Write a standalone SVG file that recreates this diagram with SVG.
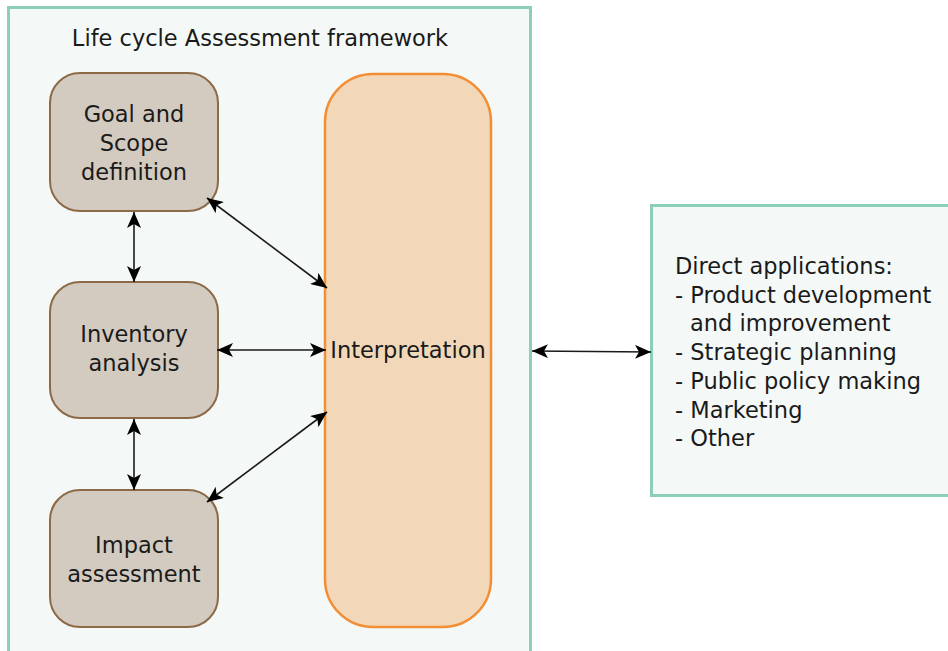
<svg xmlns="http://www.w3.org/2000/svg" width="948" height="651" viewBox="0 0 948 651">
<defs>
<style>
text{font-family:"DejaVu Sans",Verdana,sans-serif;font-size:22.5px;fill:#1a1a1a}
.frame{fill:#f4f8f7;stroke:#8ccfb6;stroke-width:3}
.stage{fill:#d3cbbf;stroke:#8c6a47;stroke-width:2}
.interp{fill:#f2d8b8;stroke:#f28e35;stroke-width:2.5}
.c{text-anchor:middle}
.conn{stroke:#1a1a1a;stroke-width:1.6;fill:none;marker-end:url(#ah);marker-start:url(#ah)}
</style>
<marker id="ah" viewBox="0 0 16 14" refX="16" refY="7" markerWidth="16" markerHeight="14" markerUnits="userSpaceOnUse" orient="auto-start-reverse">
<path d="M0,0 L16,7 L0,14 L4,7 Z" fill="#000"/>
</marker>
</defs>
<g id="framework">
<rect class="frame" x="8.5" y="7.5" width="522" height="650"/>
<text class="c" x="260" y="46">Life cycle Assessment framework</text>
</g>
<g id="goal">
<rect class="stage" x="50" y="73" width="168" height="138" rx="30"/>
<text class="c" x="134" y="122">Goal and</text>
<text class="c" x="134" y="151">Scope</text>
<text class="c" x="134" y="180">definition</text>
</g>
<g id="inventory">
<rect class="stage" x="50" y="282" width="168" height="136" rx="30"/>
<text class="c" x="134" y="342">Inventory</text>
<text class="c" x="134" y="371">analysis</text>
</g>
<g id="impact">
<rect class="stage" x="50" y="490" width="168" height="137" rx="30"/>
<text class="c" x="134" y="553">Impact</text>
<text class="c" x="134" y="582">assessment</text>
</g>
<g id="interpretation">
<rect class="interp" x="325" y="74" width="166" height="553" rx="48"/>
<text class="c" x="408" y="358">Interpretation</text>
</g>
<g id="applications">
<rect class="frame" x="651.5" y="205.5" width="305" height="290"/>
<text x="675" y="274">Direct applications:</text>
<text x="675" y="303">- Product development</text>
<text x="690" y="331">and improvement</text>
<text x="675" y="360">- Strategic planning</text>
<text x="675" y="389">- Public policy making</text>
<text x="675" y="418">- Marketing</text>
<text x="675" y="446">- Other</text>
</g>
<g id="connectors">
<line class="conn" x1="134" y1="212" x2="134" y2="282"/>
<line class="conn" x1="207" y1="198" x2="327" y2="288"/>
<line class="conn" x1="217" y1="350" x2="326" y2="350"/>
<line class="conn" x1="134" y1="419" x2="134" y2="490"/>
<line class="conn" x1="207" y1="502" x2="327" y2="412"/>
<line class="conn" x1="532" y1="351" x2="651" y2="352"/>
</g>
</svg>
